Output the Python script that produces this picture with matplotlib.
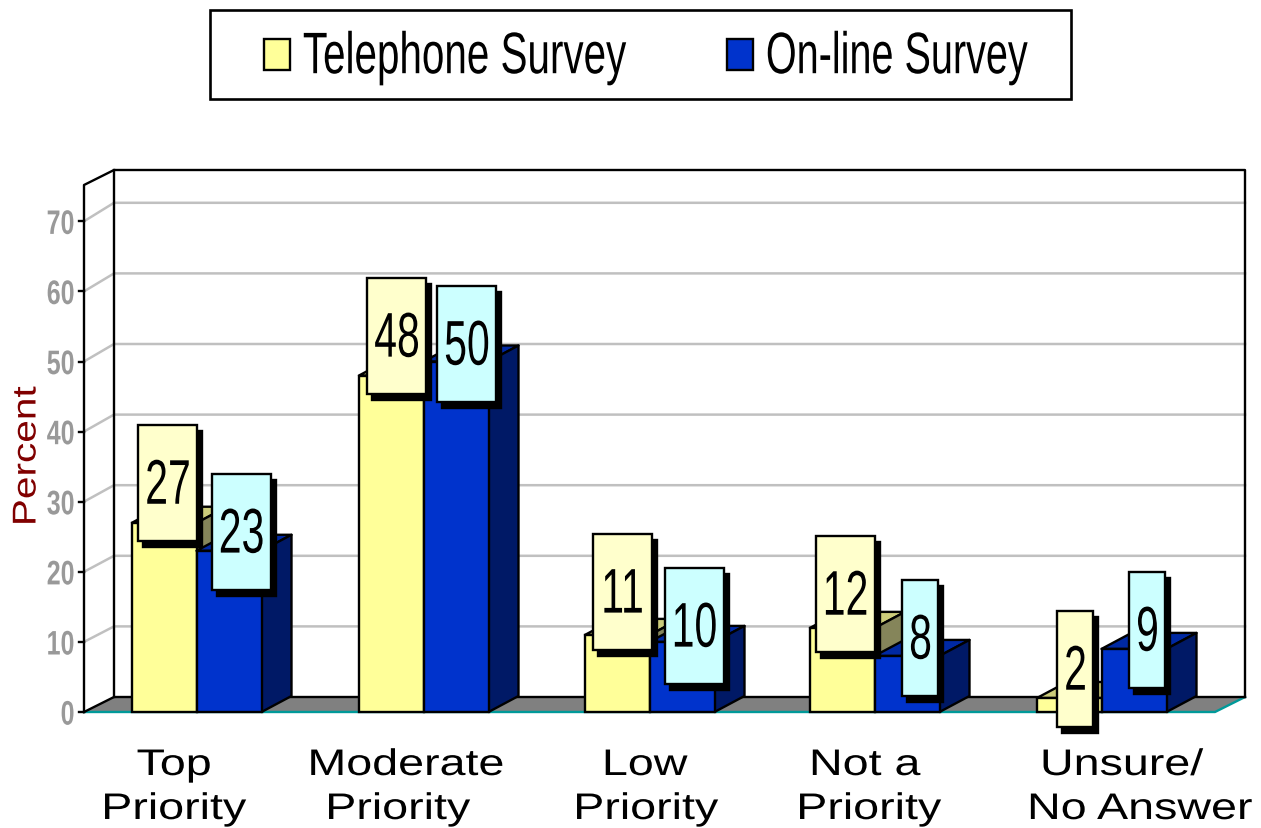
import matplotlib
matplotlib.use("Agg")
import matplotlib.pyplot as plt
from matplotlib.patches import Polygon, Rectangle, Patch
from matplotlib.patheffects import AbstractPathEffect
from matplotlib.transforms import Affine2D

# ---- data ----
categories_line1 = ["Top", "Moderate", "Low", "Not a", "Unsure/"]
categories_line2 = ["Priority", "Priority", "Priority", "Priority", "No Answer"]
telephone = [27, 48, 11, 12, 2]
online = [23, 50, 10, 8, 9]
series_names = ["Telephone Survey", "On-line Survey"]
y_ticks = [0, 10, 20, 30, 40, 50, 60, 70]
y_axis_label = "Percent"

# ---- layout (pixels) ----
W, H = 1261, 829
Y0, PX = 712, 7.01
group_left = [132, 359, 585, 810, 1037]
bar_w = 65
depth_x, depth_y = 30, 16
line1_x = [174, 406, 645, 865, 1122]
line2_x = [174, 398, 646, 869, 1140]
tel_box_dx = [3, 5, 4.5, 2.5, 5.5]
tel_box_up = [39.7, 39.5, 42.9, 33.9, 29]
onl_box_dx = [11.5, 10, 11.5, 12.5, 12.5]
onl_box_up = [18.8, 17.5, 15.9, 17.9, 18.9]

YELLOW, YEL_TOP, YEL_SIDE = "#FFFF99", "#CCCC7A", "#85855A"
BLUE, BLUE_TOP, BLUE_SIDE = "#0033CC", "#0029A3", "#001966"
BOX_Y, BOX_C = "#FFFFCC", "#CCFFFF"
K = 1.7
FONT = "Liberation Sans"


class Stretch(AbstractPathEffect):
    """Draw real text narrower, wider or taller about its own centre."""

    def __init__(self, sx=1.0, sy=1.0, anchor="center"):
        super().__init__()
        self.sx, self.sy, self.anchor = sx, sy, anchor

    def draw_path(self, renderer, gc, tpath, affine, rgbFace=None):
        e = tpath.get_extents()
        cx = (e.x0 + e.x1) / 2 if self.anchor == "center" else e.x0
        cy = (e.y0 + e.y1) / 2 if self.sy != 1.0 else 0
        t = Affine2D().translate(-cx, -cy).scale(self.sx, self.sy).translate(cx, cy) + affine
        renderer.draw_path(gc, tpath, t, rgbFace)


fig = plt.figure(figsize=(W / 100, H / 100), dpi=100)
ax = fig.add_axes([0, 0, 1, 1])
ax.set_xlim(0, W)
ax.set_ylim((Y0 - H + 1) / PX, (Y0 + 1) / PX)
ax.axis("off")


def v(py):
    return (Y0 - py) / PX


def pts(px):
    return px * 0.72


def line(xs, ys, c="black", lw=K, z=2):
    ax.plot(xs, [v(y) for y in ys], color=c, lw=lw, solid_capstyle="projecting", zorder=z)


# walls
ax.add_patch(Polygon([(114, v(170)), (1245, v(170)), (1245, v(697)), (114, v(697))], fc="white", ec="none", zorder=1))
for t in y_ticks[1:]:
    back = 697 - 7.06 * t
    line([84, 114, 1245], [Y0 - PX * t, back, back], c="#C0C0C0", lw=1.8, z=1.5)
# floor
ax.add_patch(Polygon([(84, v(712)), (114, v(697)), (1245, v(697)), (1215, v(712))], fc="#808080", ec="none", zorder=1.6))
line([84, 1215, 1245], [712, 712, 697], c="#009999", lw=K, z=1.7)
line([84, 114, 1245], [712, 697, 697], z=1.8)
# frame
line([84, 84, 114, 1245, 1245], [712, 185, 170, 170, 697], z=1.8)
line([114, 114], [170, 697], z=1.8)
# ticks
for t in y_ticks:
    line([79, 84], [Y0 - PX * t, Y0 - PX * t], z=1.8)
    tx = ax.text(74.5, t, str(t), ha="right", va="center_baseline", color="#999999", fontsize=pts(25),
                 fontweight="bold", family=FONT)
    tx.set_path_effects([Stretch(sy=1.36)])


def bar3d(left, value, face, top, side, z):
    dv = depth_y / PX
    r = left + bar_w
    ax.add_patch(Polygon([(left, value), (r, value), (r + depth_x, value + dv), (left + depth_x, value + dv)],
                         fc=top, ec="black", lw=K, zorder=z, joinstyle="round"))
    ax.add_patch(Polygon([(r, 0), (r + depth_x, dv), (r + depth_x, value + dv), (r, value)],
                         fc=side, ec="black", lw=K, zorder=z, joinstyle="round"))
    ax.bar(left, value, width=bar_w, bottom=0, align="edge", color=face, edgecolor="black", linewidth=K, zorder=z + 0.1)


def label(cx, value, up, text, fc):
    w = 59 if len(text) > 1 else 36
    h = 116
    cy = Y0 - PX * value - up
    x0, y0 = cx - w / 2, cy - h / 2
    ax.add_patch(Rectangle((x0 + 5, v(y0 + h + 6)), w, h / PX, fc="black", ec="black", lw=K, zorder=5))
    ax.add_patch(Rectangle((x0, v(y0 + h)), w, h / PX, fc=fc, ec="black", lw=K, zorder=6))
    tx = ax.text(cx + 0.5, v(cy - 2), text, ha="center", va="center_baseline", fontsize=pts(41), family=FONT, color="black", zorder=7)
    tx.set_path_effects([Stretch(sy=1.54)])


for i, left in enumerate(group_left):
    bar3d(left, telephone[i], YELLOW, YEL_TOP, YEL_SIDE, 3)
    bar3d(left + bar_w - 0.5, online[i], BLUE, BLUE_TOP, BLUE_SIDE, 3.5)
    label(left + bar_w / 2 + tel_box_dx[i], telephone[i], tel_box_up[i], str(telephone[i]), BOX_Y)
    label(left + bar_w * 1.5 + onl_box_dx[i], online[i], onl_box_up[i], str(online[i]), BOX_C)
    for xs, row, base in ((line1_x, categories_line1, 775), (line2_x, categories_line2, 819)):
        tx = ax.text(xs[i], v(base), row[i], ha="center", va="baseline", fontsize=pts(37), family=FONT)
        tx.set_path_effects([Stretch(sx=1.26)])

tx = ax.text(27, v(456), y_axis_label, rotation=90, ha="center", va="center", color="#800000",
             fontsize=pts(33), family=FONT)
tx.set_path_effects([Stretch(sx=1.23)])

# legend
ax.add_patch(Rectangle((210, v(99)), 861, 89 / PX, fc="white", ec="black", lw=K + 0.2, zorder=2))
handles = [Patch(fc=YELLOW, ec="black", lw=K), Patch(fc=BLUE, ec="black", lw=K)]
leg = ax.legend(handles, series_names, ncols=2, frameon=False, loc="center left",
                bbox_to_anchor=(264 / W, 1 - 58.5 / H), prop={"family": FONT, "size": pts(40.4)},
                handlelength=0.642, handleheight=0.84, handletextpad=0.32, columnspacing=2.49,
                borderpad=0, borderaxespad=0)
leg.set_zorder(8)
for t, sx in zip(leg.get_texts(), (1.0, 0.98)):
    t.set_path_effects([Stretch(sx=sx, sy=1.45, anchor="left")])

fig.savefig("out.png", dpi=100, facecolor="white")
